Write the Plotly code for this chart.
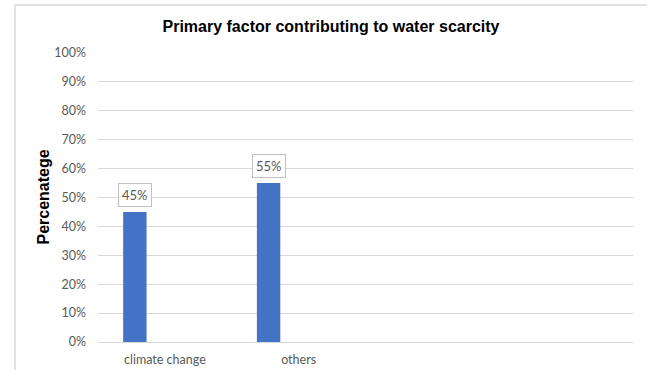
import plotly.graph_objects as go

# Chart data
categories = ["climate change", "others", " ", "  "]
values = [0.45, 0.55, None, None]
value_labels = ["45%", "55%"]
y_ticks = [i / 10 for i in range(11)]
y_tick_labels = [f"{i * 10}%" for i in range(11)]

BAR_COLOR = "#4472C4"
GRID = "#d9d9d9"
TICK_FONT = dict(family="Lato, Open Sans, sans-serif", size=12.5, color="#595959")
TITLE_FONT = dict(family="Liberation Sans, Arial, sans-serif", size=16, color="#000000")

BAR_OFFSET = -0.312   # bar left edge relative to category centre (category units)
BAR_WIDTH = 0.175

fig = go.Figure()
fig.add_trace(go.Bar(
    x=categories,
    y=values,
    marker=dict(color=BAR_COLOR, line=dict(width=0)),
    offset=BAR_OFFSET,
    width=BAR_WIDTH,
    hoverinfo="skip",
))

# Boxed value labels above each bar
for i, (v, lab) in enumerate(zip(values, value_labels)):
    fig.add_annotation(
        x=i + BAR_OFFSET + BAR_WIDTH / 2,
        y=v,
        xref="x", yref="y",
        text=lab,
        showarrow=False,
        yanchor="bottom",
        yshift=5,
        font=dict(family="Lato, Open Sans, sans-serif", size=13, color="#595959"),
        bgcolor="white",
        bordercolor="#bfbfbf",
        borderwidth=1,
        borderpad=3,
    )

L, R, T, B = 98, 14, 53, 28
pw, ph = 647 - L - R, 370 - T - B

# Vertical value-axis title
fig.add_annotation(
    x=(43 - L) / pw, y=0.5,
    xref="paper", yref="paper",
    text="<b>Percenatege</b>",
    textangle=-90,
    showarrow=False,
    xanchor="center", yanchor="middle",
    font=TITLE_FONT,
)

# Outer chart frame (top and left edges visible)
fig.add_shape(
    type="rect", xref="paper", yref="paper",
    x0=(15 - L) / pw, x1=(660 - L) / pw,
    y0=(370 - B - 380) / ph, y1=(370 - B - 5) / ph,
    line=dict(color="#d9d9d9", width=1.5),
    fillcolor="rgba(0,0,0,0)",
    layer="below",
)

fig.update_layout(
    width=647, height=370,
    margin=dict(l=L, r=R, t=T, b=B),
    paper_bgcolor="white",
    plot_bgcolor="white",
    showlegend=False,
    title=dict(
        text="<b>Primary factor contributing to water scarcity</b>",
        x=331 / 647, xanchor="center",
        y=1 - 26 / 370, yanchor="middle",
        font=TITLE_FONT,
    ),
    xaxis=dict(
        type="category",
        categoryorder="array",
        categoryarray=categories,
        range=[-0.5, 3.5],
        showgrid=False,
        showline=False,
        zeroline=False,
        ticks="",
        ticklabelstandoff=8,
        tickfont=TICK_FONT,
        automargin=False,
        fixedrange=True,
    ),
    yaxis=dict(
        range=[0, 1],
        tickvals=y_ticks,
        ticktext=y_tick_labels,
        showgrid=True,
        gridcolor=GRID,
        gridwidth=1,
        zeroline=True,
        zerolinecolor=GRID,
        zerolinewidth=1,
        showline=False,
        ticks="",
        ticklabelstandoff=11,
        tickfont=TICK_FONT,
        automargin=False,
        fixedrange=True,
    ),
)

fig.write_html("out.html")
